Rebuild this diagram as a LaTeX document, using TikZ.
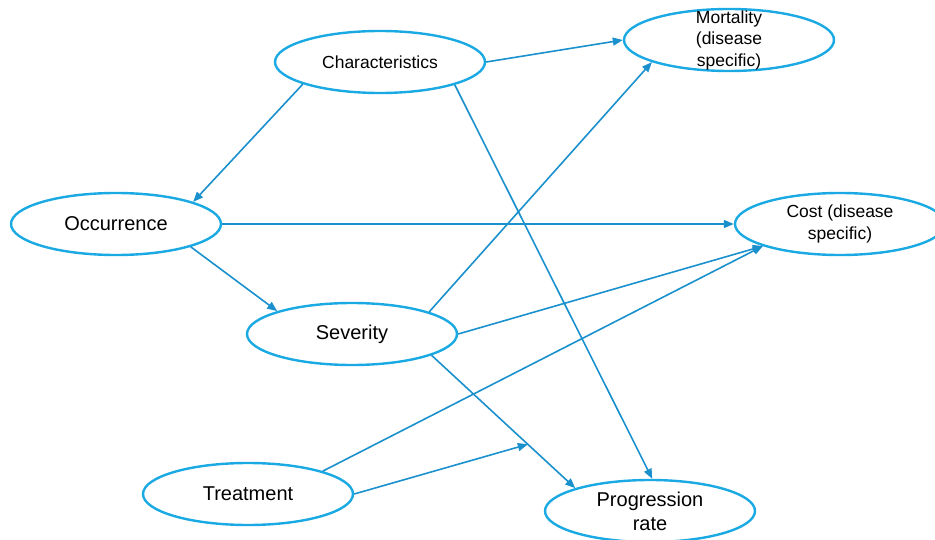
\documentclass[tikz,border=0pt]{standalone}
\usepackage{fontspec}
\setmainfont{Liberation Sans}
\usetikzlibrary{arrows.meta,shapes.geometric}
\definecolor{ellblue}{HTML}{1AA9E2}
\definecolor{arrblue}{HTML}{1A90CD}
\begin{document}
\begin{tikzpicture}[x=1pt,y=-1pt,
  ell/.style={ellipse,draw=ellblue,line width=2.4pt,minimum width=210pt,minimum height=62pt,inner sep=0pt,align=center,text=black},
  big/.style={font=\fontsize{20}{24}\selectfont},
  small/.style={font=\fontsize{17.5}{21.5}\selectfont},
  conn/.style={draw=arrblue,line width=1.6pt,-{Triangle[length=10pt,width=8pt]}}]
\useasboundingbox (0,0) rectangle (935,540);
\node[ell,small] (char) at (380,62) {Characteristics};
\node[ell,small,inner sep=-12pt] (mort) at (729,40) {Mortality\\(disease\\specific)};
\node[ell,big] (occ) at (116,224) {Occurrence};
\node[ell,small] (cost) at (840,224) {Cost (disease\\specific)};
\node[ell,big] (sev) at (352,334) {Severity};
\node[ell,big] (treat) at (248,494) {Treatment};
\node[ell,big] (prog) at (650,511) {Progression\\rate};
\draw[conn] (char.0) -- (mort.180);
\draw[conn] (char.196) -- (occ.16);
\draw[conn] (char.343) -- (prog.86);
\draw[conn] (occ.0) -- (cost.180);
\draw[conn] (occ.343) -- (sev.163);
\draw[conn] (sev.16) -- (mort.196);
\draw[conn] (sev.0) -- (cost.196);
\draw[conn] (sev.345) -- coordinate[pos=0.67] (mid) (prog.163);
\draw[conn] (treat.17) -- (cost.196);
\draw[conn] (treat.0) -- (mid);
\end{tikzpicture}
\end{document}
